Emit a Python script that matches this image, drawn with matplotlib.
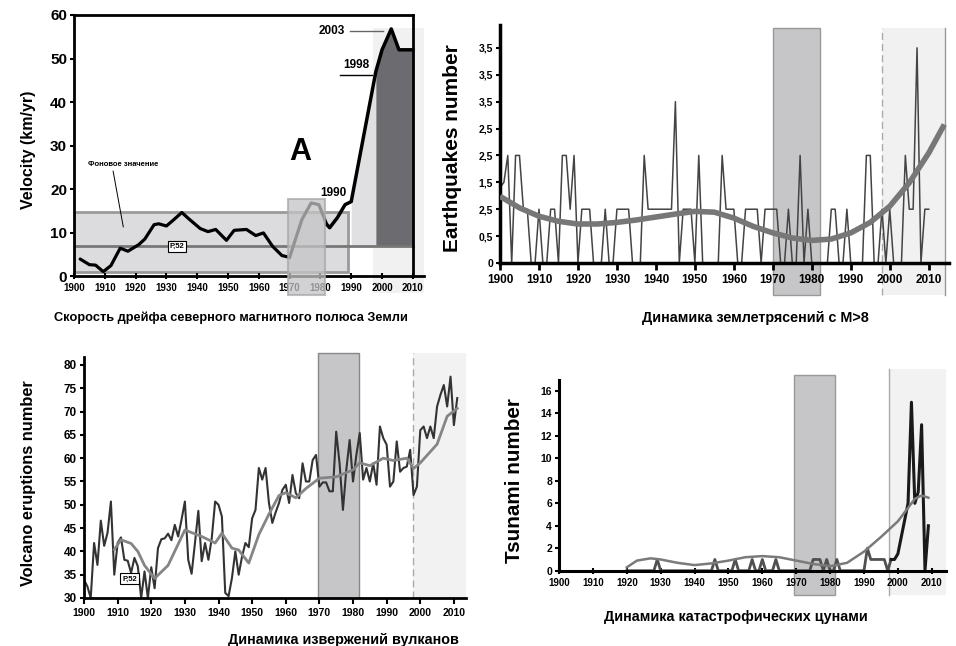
import matplotlib.pyplot as plt
import numpy as np

plt.rcParams['font.family'] = ['Liberation Sans', 'DejaVu Sans']
plt.rcParams['font.weight'] = 'bold'

# --- Panel A: drift velocity of the north magnetic pole (km/yr)
vel_years = [1902, 1905, 1907, 1909.5, 1912, 1915, 1917.5, 1921, 1923, 1926, 1927.5, 1930, 1932,
             1935, 1937.5, 1941, 1943.5, 1946, 1949.5, 1952, 1956, 1959, 1961.5, 1964.5, 1967.5, 1970]
vel_values = [3.9, 2.6, 2.5, 1.0, 2.4, 6.4, 5.7, 7.2, 8.5, 11.8, 12.0, 11.5, 12.7,
              14.6, 13.0, 10.9, 10.2, 10.7, 8.2, 10.5, 10.7, 9.3, 9.9, 6.8, 4.7, 4.3]
vel_mid_years = [1970, 1974, 1977, 1979.5, 1982]
vel_mid_values = [4.3, 13.0, 16.8, 16.4, 11.9]
vel_late_years = [1982, 1983, 1985.5, 1988, 1990, 1998, 2000, 2003, 2005.5, 2010]
vel_late_values = [11.9, 11.1, 13.4, 16.4, 17.1, 47.0, 52.0, 56.8, 52.0, 52.0]
background_level = 6.8

# --- Panel B: earthquakes M>8
eq_years = np.arange(1900, 2011)
eq_values = [2.8, 3, 4, 0, 4, 4, 2, 2, 0, 0,
             2, 0, 0, 2, 2, 0, 4, 4, 2, 4,
             0, 2, 2, 2, 0, 0, 0, 2, 0, 0,
             2, 2, 2, 2, 0, 0, 0, 4, 2, 2,
             2, 2, 2, 2, 2, 6, 0, 2, 2, 2,
             0, 4, 0, 0, 0, 0, 0, 4, 2, 2,
             2, 0, 0, 2, 2, 2, 2, 0, 2, 2,
             2, 2, 0, 0, 2, 0, 0, 4, 0, 2,
             0, 0, 0, 0, 0, 2, 2, 0, 0, 2,
             0, 0, 0, 0, 4, 4, 0, 0, 2, 0,
             2, 0, 0, 0, 4, 2, 2, 8, 0, 2, 2]
eq_trend_years = [1900, 1905, 1910, 1915, 1920, 1925, 1930, 1935, 1940, 1945, 1950, 1955,
                  1960, 1965, 1970, 1975, 1980, 1985, 1990, 1995, 2000, 2005, 2010, 2014]
eq_trend_values = [2.48, 2.05, 1.74, 1.55, 1.45, 1.45, 1.51, 1.6, 1.71, 1.82, 1.92, 1.89,
                   1.67, 1.36, 1.12, 0.93, 0.84, 0.89, 1.12, 1.51, 2.11, 2.98, 4.09, 5.15]
eq_tick_labels = ['0', '0,5', '2,5', '1,5', '2,5', '2,5', '3,5', '3,5', '3,5']

# --- Panel C: volcano eruptions
vol_years = np.arange(1900, 2012)
vol_values = [33.9, 32.5, 30.0, 41.8, 37.1, 46.6, 41.2, 44.0, 50.7, 35.0,
              41.8, 43.0, 38.2, 38.0, 35.4, 38.6, 36.8, 30.0, 35.7, 30.0,
              36.6, 32.1, 40.7, 42.6, 42.8, 43.8, 42.4, 45.7, 43.2, 46.8,
              50.7, 38.2, 35.2, 41.8, 48.7, 37.9, 41.8, 38.2, 42.9, 50.7,
              50.0, 47.5, 31.1, 30.4, 34.3, 40.0, 35.0, 38.9, 41.8, 40.9,
              47.1, 48.9, 57.9, 55.4, 57.9, 50.4, 46.1, 48.4, 50.4, 53.2,
              54.3, 50.4, 56.4, 52.5, 51.4, 58.9, 55.0, 55.0, 59.6, 60.7,
              53.9, 54.8, 54.8, 52.9, 52.9, 65.7, 58.9, 48.9, 57.5, 63.9,
              55.0, 60.7, 65.4, 55.4, 57.9, 55.0, 58.9, 54.3, 66.8, 64.3,
              62.9, 53.9, 55.0, 63.6, 57.1, 57.9, 58.2, 61.8, 52.1, 53.9,
              66.0, 66.8, 64.3, 66.8, 64.3, 71.1, 73.6, 75.7, 71.1, 77.5,
              67.1, 72.9]
vol_trend_years = [1909, 1911, 1914, 1916, 1918, 1921, 1925, 1930, 1935, 1939, 1941, 1944, 1946,
                   1949, 1952, 1955, 1958, 1960, 1963, 1966, 1970, 1975, 1980, 1982, 1985, 1989,
                   1992, 1996, 1998, 2000, 2005, 2008, 2011]
vol_trend_values = [40.4, 42.5, 41.7, 40.0, 37.0, 34.2, 37.0, 44.6, 43.2, 41.8, 43.9, 40.7, 40.3,
                    37.5, 43.6, 48.0, 52.0, 52.6, 51.5, 53.5, 55.7, 56.0, 57.5, 59.0, 58.4, 60.0,
                    59.5, 60.0, 57.8, 59.0, 63.0, 69.0, 70.7]

# --- Panel D: tsunami
ts_years = np.arange(1920, 2010)
ts_values = [0, 0, 0, 0, 0, 0, 0, 0, 0, 1,
             0, 0, 0, 0, 0, 0, 0, 0, 0, 0,
             0, 0, 0, 0, 0, 0, 1, 0, 0, 0,
             0, 0, 1, 0, 0, 0, 0, 1, 0, 0,
             1, 0, 0, 0, 1, 0, 0, 0, 0, 0,
             0, 0, 0, 0, 0, 1, 1, 1, 0, 1,
             0, 0, 1, 0, 0, 0, 0, 0, 0, 0,
             0, 2, 1, 1, 1, 1, 1, 0, 1, 1,
             1.5, 3, 4.5, 6, 15, 6, 7, 13, 0, 4]
ts_trend_years = [1920, 1923, 1927, 1930, 1935, 1940, 1945, 1950, 1955, 1960, 1965,
                  1970, 1975, 1980, 1985, 1990, 1995, 2000, 2003, 2005, 2007, 2009]
ts_trend_values = [0.3, 0.9, 1.1, 1.0, 0.7, 0.5, 0.65, 0.9, 1.2, 1.3, 1.2,
                   0.9, 0.6, 0.4, 0.7, 1.7, 3.0, 4.4, 5.6, 6.4, 6.7, 6.5]

W, H = 956, 646
fig = plt.figure(figsize=(W / 100, H / 100), dpi=100)


def px_axes(left, right, top, bottom):
    return fig.add_axes([left / W, 1 - bottom / H, (right - left) / W, (bottom - top) / H])


def ftext(x, y, s, **kw):
    fig.text(x / W, 1 - y / H, s, **kw)


def year_ticks(ax, size, width=1.5, length=4, direction='inout'):
    ax.set_xticks(range(1900, 2011, 10))
    ax.tick_params(axis='x', labelsize=size, width=width, length=length, direction=direction, pad=3)
    for lab in ax.get_xticklabels() + ax.get_yticklabels():
        lab.set_fontweight('bold')


# ================= Panel A =================
ax = px_axes(74, 423.6, 15, 276)
ax.set_xlim(1900, 2013.5)
ax.set_ylim(0, 60)
for s in ['top', 'right']:
    ax.spines[s].set_visible(False)
for s in ['left', 'bottom']:
    ax.spines[s].set_linewidth(2)
ax.plot([1900, 2010], [60, 60], color='black', lw=2, clip_on=False, zorder=6)
ax.plot([2010, 2010], [0, 60], color='black', lw=2, clip_on=False, zorder=6)

ax.add_patch(plt.Rectangle((1997.2, -3.9), 16.3, 60.9, facecolor='#f1f1f1', edgecolor='none',
                           clip_on=False, zorder=0))
ax.add_patch(plt.Rectangle((1900, 1.0), 89.1, 13.8, facecolor='#dcdcdf', edgecolor='#9a9a9a',
                           lw=2, zorder=1))
late_x = np.array(vel_late_years)
late_y = np.array(vel_late_values)
ax.fill_between(late_x, background_level, late_y, where=(late_x >= 1990) & (late_x <= 1998),
                color='#e0e0e2', lw=0, zorder=1)
ax.fill_between(late_x, background_level, late_y, where=late_x >= 1998,
                color='#6b6b70', lw=0, zorder=1)
ax.plot([1900, 2010], [background_level] * 2, color='#777777', lw=2, zorder=2)
ax.plot(vel_years, vel_values, color='black', lw=2.3, zorder=3, solid_capstyle='round')
ax.plot(vel_mid_years, vel_mid_values, color='black', lw=2.3, zorder=3)
ax.plot(vel_late_years, vel_late_values, color='black', lw=2.5, zorder=3, solid_joinstyle='round')
ax.add_patch(plt.Rectangle((1969.6, -4.3), 11.9, 21.9, facecolor='#c4c4c6', edgecolor='#a8a8a8',
                           lw=1.5, alpha=0.75, clip_on=False, zorder=4))

ax.set_yticks(range(0, 61, 10))
ax.tick_params(axis='y', labelsize=11, width=1.5, length=3, pad=2)
year_ticks(ax, 7)

ax.text(1933.4, background_level, 'P,52', fontsize=5.5, fontweight='bold', ha='center', va='center',
        bbox=dict(boxstyle='square,pad=0.25', fc='white', ec='black', lw=0.8), zorder=5)
ax.text(1916, 25.7, 'Фоновое значение', fontsize=5.5, fontweight='bold', ha='center', va='center')
ax.plot([1912.7, 1916], [24.1, 11.3], color='black', lw=0.7, zorder=5)
ax.text(1973.4, 28.5, 'A', fontsize=22, fontweight='bold', ha='center', va='center')
ax.text(1984.1, 19.1, '1990', fontsize=8.5, fontweight='bold', ha='center', va='center')
ax.text(1991.6, 48.6, '1998', fontsize=8.5, fontweight='bold', ha='center', va='center')
ax.plot([1986.4, 1996.8], [46.2, 46.2], color='black', lw=1, zorder=5)
ax.text(1983.8, 56.3, '2003', fontsize=8.5, fontweight='bold', ha='center', va='center')
ax.plot([1989.6, 2000.3], [56.3, 56.3], color='#666666', lw=1, zorder=5)

fig.text(28 / W, 1 - 150 / H, 'Velocity (km/yr)', rotation=90, fontsize=11.5, fontweight='bold',
         ha='center', va='center')
ftext(231, 318, 'Скорость дрейфа северного магнитного полюса Земли', fontsize=9.2, fontweight='bold',
      ha='center', va='center')

# ================= Panel B =================
ax = px_axes(500, 949, 25, 263)
ax.set_xlim(1900, 2015.2)
ax.set_ylim(0, 8.85)
for s in ['top', 'right']:
    ax.spines[s].set_visible(False)
for s in ['left', 'bottom']:
    ax.spines[s].set_linewidth(2.5)
ax.add_patch(plt.Rectangle((1970.1, -1.19), 12.1, 9.92, facecolor='#c6c6c8', edgecolor='#999999',
                           lw=1, clip_on=False, zorder=0))
ax.add_patch(plt.Rectangle((1998, -1.19), 16.1, 9.92, facecolor='#f1f1f1', edgecolor='none',
                           clip_on=False, zorder=0))
ax.plot([1998, 1998], [-1.19, 8.73], color='#aaaaaa', lw=1, ls=(0, (5, 3)), clip_on=False, zorder=0.5)
ax.plot([2014.1, 2014.1], [-1.19, 8.73], color='#999999', lw=1, clip_on=False, zorder=0.5)
ax.plot(eq_years, eq_values, color='#444444', lw=1.1, zorder=2)
ax.plot(eq_trend_years, eq_trend_values, color='#777777', lw=4, zorder=3, solid_capstyle='butt')
ax.set_yticks(range(9))
ax.set_yticklabels(eq_tick_labels)
ax.tick_params(axis='y', labelsize=7.5, width=1.5, length=3, pad=2)
year_ticks(ax, 8.5, width=2, length=5, direction='out')
fig.text(453 / W, 1 - 148 / H, 'Earthquakes number', rotation=90, fontsize=15, fontweight='bold',
         ha='center', va='center')
ftext(755, 318, 'Динамика землетрясений с М>8', fontsize=10.4, fontweight='bold',
      ha='center', va='center')

# ================= Panel C =================
ax = px_axes(84, 466, 356.6, 598)
ax.set_xlim(1900, 2013.6)
ax.set_ylim(30, 81.8)
for s in ['top', 'right']:
    ax.spines[s].set_visible(False)
for s in ['left', 'bottom']:
    ax.spines[s].set_linewidth(2)
ax.add_patch(plt.Rectangle((1969.7, 30), 12.2, 52.6, facecolor='#c6c6c8', edgecolor='#888888',
                           lw=1, clip_on=False, zorder=0))
ax.add_patch(plt.Rectangle((1997.7, 30), 15.9, 52.6, facecolor='#f2f2f2', edgecolor='none',
                           clip_on=False, zorder=0))
ax.plot([1997.7, 1997.7], [30, 82.6], color='#aaaaaa', lw=1, ls=(0, (5, 3)), clip_on=False, zorder=0.5)
ax.plot(vol_years, vol_values, color='#333333', lw=1.5, zorder=2)
ax.plot(vol_trend_years, vol_trend_values, color='#858585', lw=2, zorder=3)
ax.set_yticks(range(30, 81, 5))
ax.tick_params(axis='y', labelsize=8.5, width=1.5, length=3, pad=2)
year_ticks(ax, 7.5, width=1.5, length=4, direction='out')
ax.text(1913.5, 34.1, 'P,52', fontsize=5.5, fontweight='bold', ha='center', va='center',
        bbox=dict(boxstyle='square,pad=0.25', fc='white', ec='black', lw=0.8), zorder=5)
fig.text(29 / W, 1 - 483 / H, 'Volcano eruptions number', rotation=90, fontsize=11.8, fontweight='bold',
         ha='center', va='center')
ftext(343, 640, 'Динамика извержений вулканов', fontsize=10.4, fontweight='bold',
      ha='center', va='center')

# ================= Panel D =================
ax = px_axes(559, 946, 379.8, 570.7)
ax.set_xlim(1900, 2014.2)
ax.set_ylim(0, 17)
for s in ['top', 'right']:
    ax.spines[s].set_visible(False)
for s in ['left', 'bottom']:
    ax.spines[s].set_linewidth(2.2)
ax.add_patch(plt.Rectangle((1969.4, -2.2), 11.9, 19.6, facecolor='#c6c6c8', edgecolor='#999999',
                           lw=1, clip_on=False, zorder=0))
ax.add_patch(plt.Rectangle((1997.3, -2.2), 16.9, 20.2, facecolor='#f2f2f2', edgecolor='none',
                           clip_on=False, zorder=0))
ax.plot([1997.3, 1997.3], [-2.2, 18], color='#aaaaaa', lw=1, clip_on=False, zorder=0.5)
ts_x = np.array(ts_years)
ts_y = np.array(ts_values)
early = ts_x <= 1998
ax.plot(ts_x[early], ts_y[early], color='#505050', lw=2, zorder=2)
ax.plot(ts_x[ts_x >= 1998], ts_y[ts_x >= 1998], color='#1a1a1a', lw=2.2, zorder=2)
ax.plot(ts_trend_years, ts_trend_values, color='#7a7a7a', lw=1.8, zorder=3)
ax.set_yticks(range(0, 17, 2))
ax.tick_params(axis='y', labelsize=7.5, width=1.5, length=3, pad=2)
year_ticks(ax, 7, width=1.5, length=4, direction='inout')
fig.text(515 / W, 1 - 481 / H, 'Tsunami number', rotation=90, fontsize=14.9, fontweight='bold',
         ha='center', va='center')
ftext(736, 617, 'Динамика катастрофических цунами', fontsize=10.4, fontweight='bold',
      ha='center', va='center')

fig.savefig('out.png', dpi=100)
